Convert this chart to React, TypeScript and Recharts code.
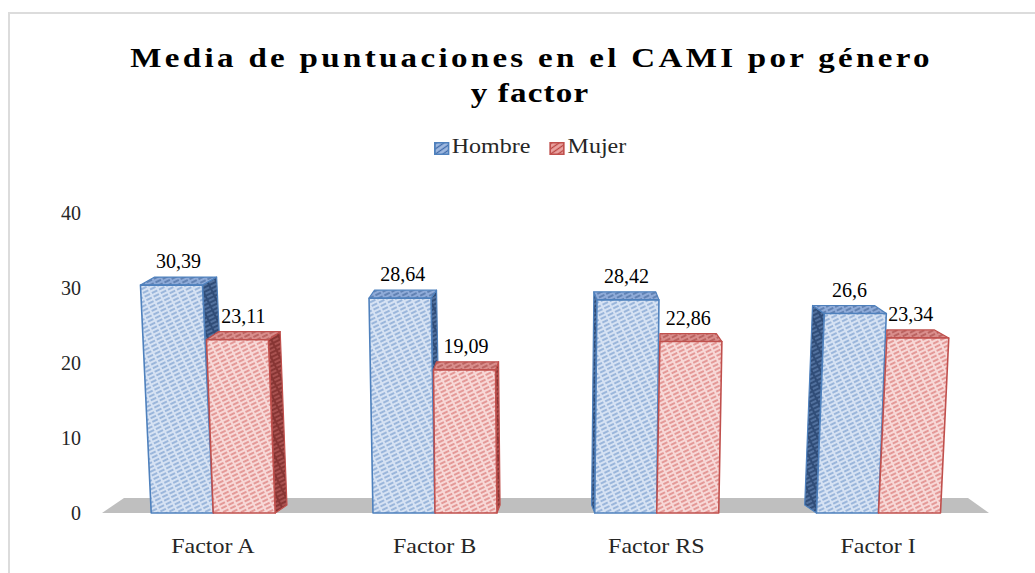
import { BarChart, Bar, XAxis, YAxis, LabelList, ReferenceArea } from 'recharts';

const categorias = ['Factor A', 'Factor B', 'Factor RS', 'Factor I'];
const hombre = [30.39, 28.64, 28.42, 26.6];
const mujer = [23.11, 19.09, 22.86, 23.34];
const ticksY = [0, 10, 20, 30, 40];

const datos = categorias.map((factor, i) => ({ factor, Hombre: hombre[i], Mujer: mujer[i] }));

const W = 1035;
const H = 573;
const MARGEN = { top: 213, right: 46, bottom: 30, left: 42 };
const ANCHO_EJE_Y = 60;
const CENTRO = MARGEN.left + ANCHO_EJE_Y + (W - MARGEN.left - ANCHO_EJE_Y - MARGEN.right) / 2;

// perspectiva aproximada del grafico 3D de Excel
const PROF_Y = -8;
const K_PROF = 0.039;
const K_INCL = 1.3e-4;
const ESTIRA = 1.2;

const FUENTE = '"Liberation Serif", "Times New Roman", serif';

const ESTILOS: Record<string, { borde: string; frente: string; arriba: string; lado: string }> = {
  Hombre: { borde: '#4f81bd', frente: 'url(#hFrente)', arriba: 'url(#hArriba)', lado: 'url(#hLado)' },
  Mujer: { borde: '#c0504d', frente: 'url(#mFrente)', arriba: 'url(#mArriba)', lado: 'url(#mLado)' },
};

const pts = (arr: number[][]) => arr.map((p) => `${p[0]},${p[1]}`).join(' ');

function barra3D(serie: 'Hombre' | 'Mujer') {
  return (props: any) => {
    const { x, y, width: w, height: h } = props;
    if (!w || h == null) return null;
    const est = ESTILOS[serie];
    const base = y + h;
    const cx = x + w / 2;
    const dx = (CENTRO - cx) * K_PROF;
    const dy = PROF_Y;
    const t = (cx - CENTRO) * h * K_INCL;
    const tl = [x + t, y];
    const tr = [x + w + t, y];
    let bl = [tl[0] + dx, y + dy];
    const br = [tr[0] + dx, y + dy];
    let lado = null;
    if (dx > 0) {
      lado = [[x + w, base], tr, br, [x + w + dx, base + dy]];
    } else if (serie === 'Hombre') {
      lado = [[x, base], tl, bl, [x + dx, base + dy]];
    } else {
      // la cara izquierda queda tapada por la barra de Hombre
      bl = [Math.max(bl[0], tl[0]), bl[1]];
    }
    const arriba = serie === 'Mujer' && dx < 0 ? [tl, tr, br, bl, [tl[0], bl[1]]] : [tl, tr, br, bl];
    return (
      <g>
        {lado && <polygon points={pts(lado)} fill={est.lado} stroke={est.borde} strokeWidth={1.2} strokeLinejoin="round" />}
        <polygon points={pts(arriba)} fill={est.arriba} stroke={est.borde} strokeWidth={1.2} strokeLinejoin="round" />
        <polygon points={pts([[x, base], [x + w, base], tr, tl])} fill={est.frente} stroke={est.borde} strokeWidth={1.6} strokeLinejoin="round" />
      </g>
    );
  };
}

const etiqueta = (props: any) => {
  const { x, y, width: w, height: h, value } = props;
  const cx = x + w / 2;
  const dx = (CENTRO - cx) * K_PROF;
  const t = (cx - CENTRO) * h * K_INCL;
  const px = cx + t + dx / 2;
  const py = y + PROF_Y - 9;
  return (
    <text x={px} y={py} textAnchor="middle" fontFamily={FUENTE} fontSize={20} fill="#000">
      {String(value).replace('.', ',')}
    </text>
  );
};

const piso = (props: any) => {
  const { x, y, width: w, height: h } = props;
  const base = y + h;
  return <polygon points={pts([[x, base], [x + w, base], [x + w - 21, base - 15], [x + 22, base - 15]])} fill="#bfbfbf" />;
};

const TickY = ({ x, y, payload }: any) => (
  <text x={x} y={y} textAnchor="end" dy="0.35em" fontFamily={FUENTE} fontSize={20} fill="#262626">
    {payload.value}
  </text>
);

const TickX = ({ x, y, payload }: any) => (
  <text transform={`translate(${x},${y}) scale(${ESTIRA},1)`} textAnchor="middle" dy="0.71em" fontFamily={FUENTE} fontSize={20} fill="#262626">
    {payload.value}
  </text>
);

const Trama = ({ id, fondo, linea, ancho = 1 }: { id: string; fondo: string; linea: string; ancho?: number }) => (
  <pattern id={id} width={8} height={4} patternUnits="userSpaceOnUse" patternTransform="rotate(-26)">
    <rect width={8} height={4} fill={fondo} />
    <line x1={0} y1={2} x2={8} y2={2} stroke={linea} strokeWidth={ancho} strokeDasharray="6 2" />
  </pattern>
);

const Icono = ({ id, fondo, linea, borde }: { id: string; fondo: string; linea: string; borde: string }) => (
  <svg width={13} height={13} style={{ display: 'inline-block', verticalAlign: 'middle', marginRight: 2 }}>
    <defs>
      <pattern id={id} width={4} height={4} patternUnits="userSpaceOnUse" patternTransform="rotate(-40)">
        <rect width={4} height={4} fill={fondo} />
        <line x1={0} y1={2} x2={4} y2={2} stroke={linea} strokeWidth={1.2} />
      </pattern>
    </defs>
    <rect x={0.75} y={0.75} width={11.5} height={11.5} fill={`url(#${id})`} stroke={borde} strokeWidth={1.5} />
  </svg>
);

export default function App() {
  return (
    <div style={{ position: 'fixed', left: 0, top: 0, width: W, height: H, overflow: 'hidden', background: '#fff' }}>
      <div style={{ position: 'absolute', left: 8, top: 12, width: 1200, height: 800, border: '2px solid #dcdcdc', boxSizing: 'border-box' }} />
      <div style={{
        position: 'absolute', left: 0, top: 40, width: 1060, textAlign: 'center',
        fontFamily: FUENTE, fontWeight: 'bold', fontSize: 28, lineHeight: '35px', color: '#000',
        transform: 'scaleX(1.18)', transformOrigin: '530px 0',
      }}>
        <span style={{ letterSpacing: 2.8, marginRight: -2.8 }}>Media de puntuaciones en el CAMI por género</span>
        <br />
        <span style={{ letterSpacing: 1 }}>y factor</span>
      </div>
      <div style={{
        position: 'absolute', left: 0, top: 135, width: 1060, textAlign: 'center',
        fontFamily: FUENTE, fontSize: 20, lineHeight: '22px', color: '#262626',
        transform: `scaleX(${ESTIRA})`, transformOrigin: '530px 0',
      }}>
        <Icono id="legH" fondo="#9fb9e0" linea="#3f6aa8" borde="#4f81bd" />
        <span>Hombre</span>
        <span style={{ display: 'inline-block', width: 16 }} />
        <Icono id="legM" fondo="#eaa2a0" linea="#b84441" borde="#c0504d" />
        <span>Mujer</span>
      </div>
      <div style={{ position: 'absolute', left: 0, top: 0 }}>
        <BarChart width={W} height={H} data={datos} margin={MARGEN} barCategoryGap="22.2%" barGap={0}>
          <defs>
            <Trama id="hFrente" fondo="#d6e2f3" linea="#5f8bc4" />
            <Trama id="hArriba" fondo="#8fabd8" linea="#34598f" />
            <Trama id="hLado" fondo="#304d78" linea="#7395c4" />
            <Trama id="mFrente" fondo="#f7d8d7" linea="#d25a57" />
            <Trama id="mArriba" fondo="#d98e8c" linea="#9c3936" />
            <Trama id="mLado" fondo="#873533" linea="#cc6f6c" />
          </defs>
          <ReferenceArea y1={0} y2={1} shape={piso} fillOpacity={1} />
          <XAxis dataKey="factor" axisLine={false} tickLine={false} tickSize={0} tickMargin={26} tick={<TickX />} interval={0} />
          <YAxis width={ANCHO_EJE_Y} domain={[0, 40]} ticks={ticksY} axisLine={false} tickLine={false} tickSize={0} tickMargin={21} tick={<TickY />} />
          <Bar dataKey="Hombre" isAnimationActive={false} shape={barra3D('Hombre')}>
            <LabelList dataKey="Hombre" content={etiqueta} />
          </Bar>
          <Bar dataKey="Mujer" isAnimationActive={false} shape={barra3D('Mujer')}>
            <LabelList dataKey="Mujer" content={etiqueta} />
          </Bar>
        </BarChart>
      </div>
    </div>
  );
}
